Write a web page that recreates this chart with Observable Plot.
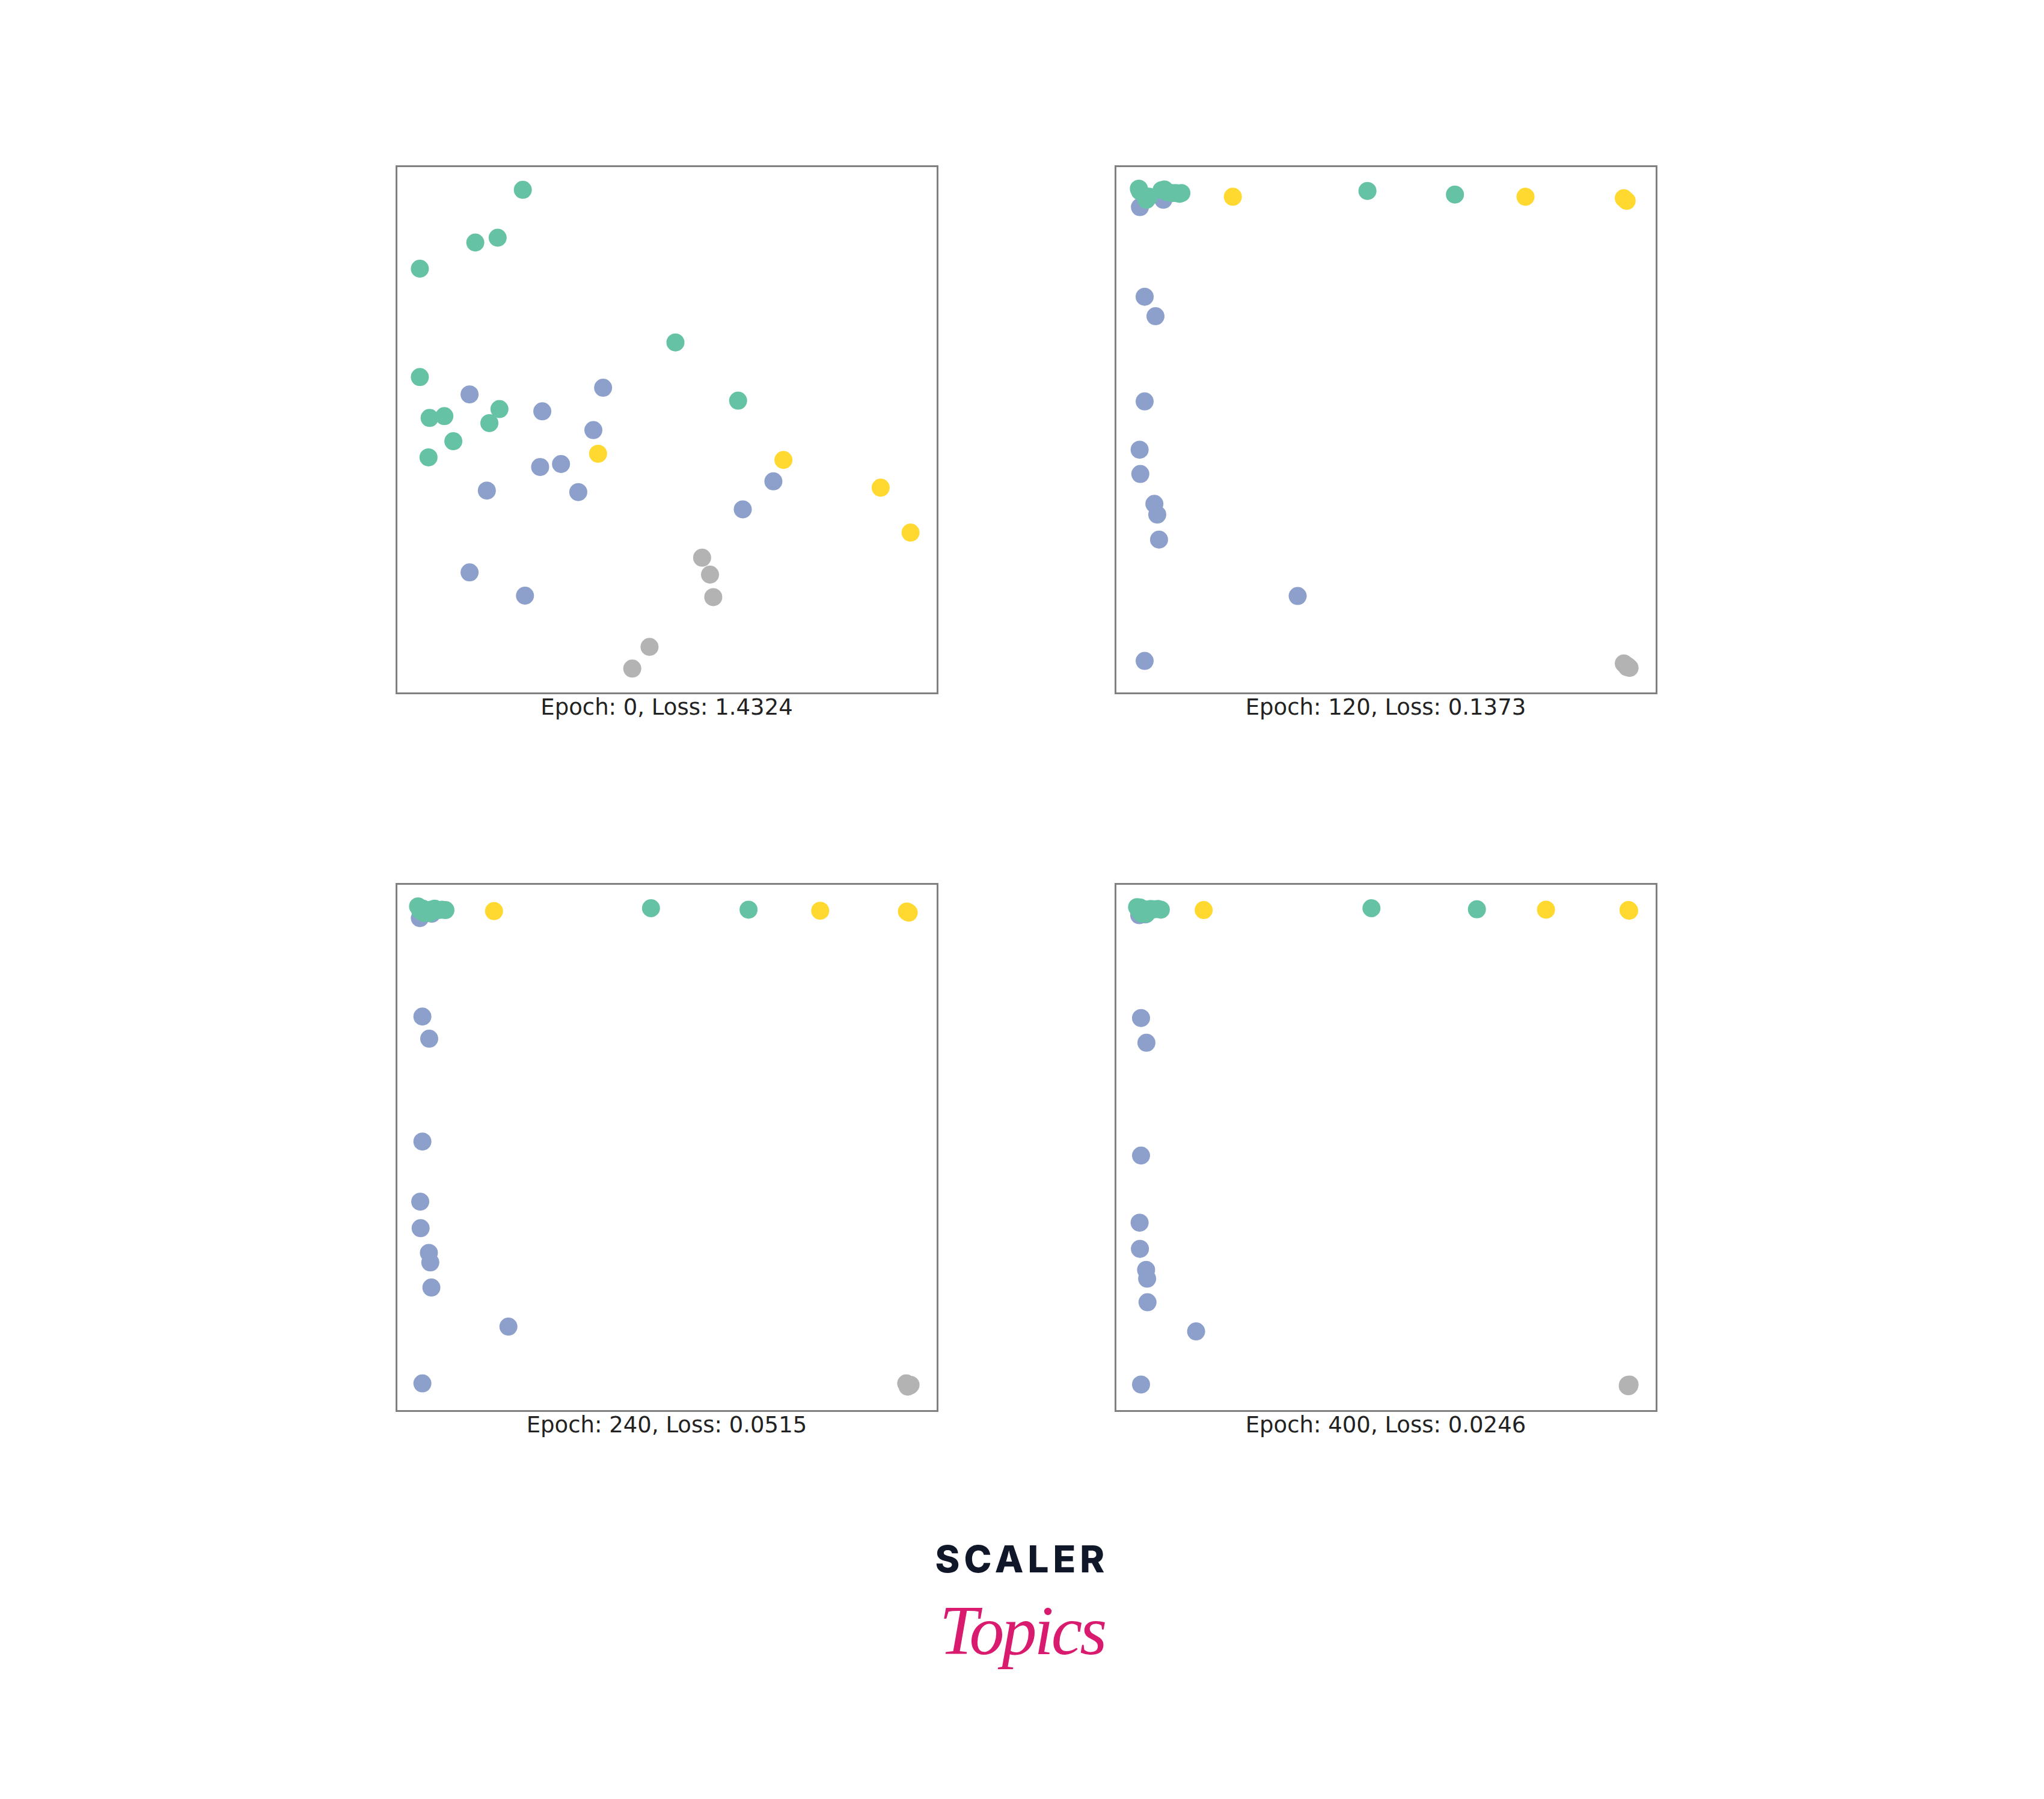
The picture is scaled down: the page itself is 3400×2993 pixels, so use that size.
<!DOCTYPE html>
<html>
<head>
<meta charset="utf-8">
<script src="https://cdn.jsdelivr.net/npm/d3@7"></script>
<script src="https://cdn.jsdelivr.net/npm/@observablehq/plot@0.6"></script>
<style>
  html, body { margin: 0; padding: 0; background: #fff; }
  #page { position: relative; width: 3400px; height: 2993px; background: #fff; overflow: hidden; }
  .panel { position: absolute; }
  .cap { position: absolute; width: 900px; text-align: center; font-family: "DejaVu Sans", sans-serif;
         font-size: 37px; line-height: 37px; color: #222; white-space: nowrap; }
  #scaler { position: absolute; left: 1500px; top: 2569px; width: 400px; text-align: center;
            font-family: Inter, "Open Sans", sans-serif; font-weight: 800; font-size: 62px; line-height: 50px;
            letter-spacing: 7px; color: #0f1729; white-space: nowrap; }
  #topics { position: absolute; left: 1500px; top: 2655px; width: 400px; text-align: center;
            font-family: "Liberation Serif", "DejaVu Serif", serif; font-style: italic; font-size: 116px;
            line-height: 116px; letter-spacing: -4px; color: #d81b6e; white-space: nowrap; }
</style>
</head>
<body>
<div id="page"></div>
<script>
// ---- data: node embeddings (arbitrary units, 0-100 span of each frame) ----
const classes = ["Class 1", "Class 2", "Class 3", "Class 4"];
const classColors = ["#8da0cb", "#b3b3b3", "#ffd92f", "#66c2a5"];
const epochs = [0, 120, 240, 400];
const losses = ["1.4324", "0.1373", "0.0515", "0.0246"];

// Epoch 0
const e0Blue = [[13.51,56.71],[38.19,57.97],[26.95,53.50],[36.39,49.93],[26.55,42.94],[30.41,43.50],[16.70,38.46],[33.60,38.18],[69.66,40.21],[64.00,34.90],[13.51,22.94],[23.75,18.53]];
const e0Gray = [[56.49,25.73],[57.95,22.52],[58.55,18.25],[46.77,8.81],[43.58,4.69]];
const e0Yellow = [[37.26,45.45],[71.52,44.27],[89.49,39.02],[95.01,30.49]];
const e0Green = [[23.35,95.52],[14.57,85.52],[18.70,86.43],[4.32,80.56],[51.56,66.57],[4.32,60.00],[63.14,55.52],[6.12,52.24],[8.85,52.59],[19.03,53.92],[17.17,51.26],[10.51,47.83],[5.92,44.76]];

// Epoch 120
const e120Blue = [[4.52,92.24],[8.85,93.64],[5.39,75.24],[7.39,71.54],[5.39,55.38],[4.46,46.22],[4.59,41.61],[7.19,35.94],[7.72,33.92],[8.05,29.16],[33.67,18.46],[5.39,6.15]];
const e120Gray = [[93.95,5.66],[94.34,5.38],[94.74,5.10],[95.01,4.83],[94.54,4.97]];
const e120Yellow = [[21.69,94.20],[75.78,94.20],[93.95,93.92],[94.48,93.43]];
const e120Green = [[4.32,95.73],[4.52,95.24],[5.72,93.64],[6.19,94.20],[8.52,95.45],[9.05,95.59],[9.71,95.03],[10.51,94.90],[11.18,94.90],[11.84,94.76],[12.18,94.90],[46.57,95.31],[62.74,94.62]];

// Epoch 240
const e240Blue = [[4.32,93.50],[6.52,94.34],[4.79,74.83],[6.05,70.63],[4.79,51.12],[4.39,39.72],[4.46,34.69],[5.99,30.00],[6.25,28.18],[6.45,23.43],[20.69,16.01],[4.79,5.24]];
const e240Gray = [[94.21,5.24],[94.54,5.03],[94.88,4.83],[94.48,4.62],[95.01,4.97]];
const e240Yellow = [[18.03,94.83],[78.31,94.90],[94.34,94.76],[94.68,94.55]];
const e240Green = [[3.99,95.73],[4.39,94.90],[5.06,94.48],[5.72,94.90],[6.39,95.10],[7.05,95.31],[7.72,95.03],[8.38,95.10],[9.05,95.03],[6.19,94.48],[4.86,95.31],[47.04,95.38],[65.07,95.10]];

// Epoch 400
const e400Blue = [[4.39,94.06],[5.52,94.20],[4.72,74.55],[5.72,69.86],[4.72,48.46],[4.46,35.73],[4.52,30.77],[5.66,26.78],[5.85,25.10],[5.92,20.63],[14.90,15.10],[4.72,5.03]];
const e400Gray = [[94.74,4.97],[94.94,4.83],[94.81,4.69],[95.01,5.03],[94.68,4.76]];
const e400Yellow = [[16.30,95.03],[79.57,95.10],[94.81,95.03],[94.94,94.90]];
const e400Green = [[3.99,95.59],[4.39,94.90],[4.86,94.34],[5.32,95.17],[5.85,94.90],[6.52,95.24],[7.19,95.17],[7.85,95.24],[8.38,95.10],[5.72,94.34],[4.52,95.52],[47.31,95.38],[66.80,95.17]];

const snapshots = [
  [e0Blue, e0Gray, e0Yellow, e0Green],
  [e120Blue, e120Gray, e120Yellow, e120Green],
  [e240Blue, e240Gray, e240Yellow, e240Green],
  [e400Blue, e400Gray, e400Yellow, e400Green]
];

// ---- layout ----
const page = document.getElementById("page");
const lefts = [657, 1853, 657, 1853];
const tops = [274, 274, 1468, 1468];

snapshots.forEach((groups, i) => {
  const rows = groups.flatMap((pts, k) => pts.map(([x, y]) => ({x, y, cls: classes[k]})));
  const chart = Plot.plot({
    width: 904,
    height: 881,
    margin: 2,
    x: {domain: [0, 100], axis: null},
    y: {domain: [0, 100], axis: null},
    color: {domain: classes, range: classColors},
    style: {background: "transparent", overflow: "visible"},
    marks: [
      Plot.dot(rows, {x: "x", y: "y", fill: "cls", r: 15}),
      Plot.frame({stroke: "#808080", strokeWidth: 3})
    ]
  });
  const wrap = document.createElement("div");
  wrap.className = "panel";
  wrap.style.left = lefts[i] + "px";
  wrap.style.top = tops[i] + "px";
  wrap.appendChild(chart);
  page.appendChild(wrap);

  const cap = document.createElement("div");
  cap.className = "cap";
  cap.style.left = (lefts[i] + 2) + "px";
  cap.style.top = (tops[i] + 884) + "px";
  cap.textContent = `Epoch: ${epochs[i]}, Loss: ${losses[i]}`;
  page.appendChild(cap);
});

const s = document.createElement("div");
s.id = "scaler"; s.textContent = "SCALER";
page.appendChild(s);
const t = document.createElement("div");
t.id = "topics"; t.textContent = "Topics";
page.appendChild(t);
</script>
</body>
</html>
